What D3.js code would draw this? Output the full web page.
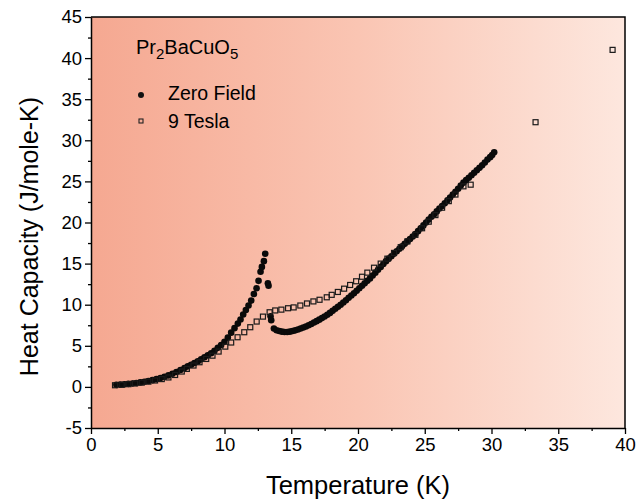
<!DOCTYPE html>
<html>
<head>
<meta charset="utf-8">
<script src="https://cdn.jsdelivr.net/npm/d3@7"></script>
<style>
  body { margin: 0; background: #fff; }
  svg { display: block; font-family: "Liberation Sans", Arial, sans-serif; }
</style>
</head>
<body>
<div id="chart"></div>
<script>
// ---- Data
const zeroFieldT = [
  1.9, 2.2, 2.5, 2.8, 3.1, 3.4, 3.7, 4.0, 4.3, 4.6, 4.9, 5.2, 5.5, 5.8, 6.1, 6.4, 6.7,
  7.0, 7.25, 7.5, 7.75, 8.0, 8.25, 8.5, 8.75, 9.0, 9.25, 9.5, 9.75, 10.0, 10.25, 10.5, 10.75,
  11.0, 11.2, 11.4, 11.6, 11.8, 12.0, 12.2, 12.4, 12.55, 12.7, 12.8, 12.95, 13.05,
  13.25, 13.3, 13.45, 13.5,
  13.7, 13.9, 14.1, 14.3, 14.5, 14.7, 14.9, 15.1, 15.3, 15.5, 15.7, 15.9, 16.1, 16.3, 16.5,
  16.7, 16.9, 17.1, 17.3, 17.5, 17.7, 17.9, 18.1, 18.3, 18.5, 18.7, 18.9, 19.1, 19.3, 19.5,
  19.7, 19.9, 20.1, 20.3, 20.5, 20.7, 20.9, 21.1, 21.3, 21.5, 21.7, 21.9, 22.1, 22.3, 22.5,
  22.7, 22.9, 23.1, 23.3, 23.5, 23.7, 23.9, 24.1, 24.3, 24.5, 24.7, 24.9, 25.1, 25.3, 25.5,
  25.7, 25.9, 26.1, 26.3, 26.5, 26.7, 26.9, 27.1, 27.3, 27.5, 27.7, 27.9, 28.1, 28.3, 28.5,
  28.7, 28.9, 29.1, 29.3, 29.5, 29.7, 29.9, 30.05, 30.2
];
const zeroFieldC = [
  0.25, 0.28, 0.32, 0.37, 0.42, 0.48, 0.55, 0.63, 0.72, 0.82, 0.94, 1.07, 1.22, 1.4, 1.6, 1.82, 2.05,
  2.3, 2.5, 2.7, 2.9, 3.1, 3.35, 3.6, 3.85, 4.1, 4.4, 4.75, 5.1, 5.5, 6.0, 6.6, 7.15,
  7.7, 8.2, 8.8, 9.35, 9.9, 10.5, 11.3, 12.0, 12.9, 14.0, 14.6, 15.3, 16.2,
  12.6, 12.3, 8.6, 8.1,
  7.1, 6.9, 6.8, 6.72, 6.68, 6.68, 6.72, 6.8, 6.88, 6.98, 7.1, 7.22, 7.35, 7.5, 7.66,
  7.83, 8.0, 8.18, 8.37, 8.57, 8.78, 9.0, 9.25, 9.5, 9.75, 10.0, 10.27, 10.55, 10.85, 11.12,
  11.4, 11.7, 12.0, 12.3, 12.6, 12.9, 13.2, 13.55, 13.9, 14.25, 14.6, 14.95, 15.3, 15.6, 15.9,
  16.2, 16.5, 16.8, 17.1, 17.4, 17.7, 18.0, 18.3, 18.6, 18.95, 19.3, 19.65, 20.0, 20.35, 20.7,
  21.0, 21.35, 21.7, 22.0, 22.35, 22.7, 23.05, 23.4, 23.75, 24.1, 24.5, 24.85, 25.15, 25.45, 25.75,
  26.05, 26.35, 26.65, 26.95, 27.3, 27.65, 27.95, 28.2, 28.55
];

const teslaT = [
  1.8, 2.3, 2.8, 3.3, 3.8, 4.3, 4.8, 5.3, 5.8, 6.3, 6.8, 7.18, 7.68, 8.13, 8.63, 9.1, 9.56,
  10.06, 10.5, 10.98, 11.48, 11.93, 12.41, 12.88, 13.38, 13.8, 14.26, 14.76, 15.18, 15.68,
  16.18, 16.66, 17.12, 17.66, 18.03, 18.49, 18.96, 19.41, 19.86, 20.3, 20.7, 21.2, 21.7,
  22.2, 22.7, 23.2, 23.7, 24.3, 24.8, 25.3, 25.8, 26.3, 26.8, 27.3, 27.9, 28.44, 33.3, 39.07
];
const teslaC = [
  0.2, 0.25, 0.33, 0.42, 0.52, 0.64, 0.78, 0.95, 1.15, 1.45, 1.87, 2.19, 2.6, 3.0, 3.4, 3.8, 4.3,
  4.9, 5.4, 6.04, 6.65, 7.26, 7.95, 8.55, 9.08, 9.3, 9.4, 9.57, 9.67, 9.9,
  10.15, 10.4, 10.6, 10.9, 11.2, 11.55, 11.95, 12.4, 12.85, 13.4, 13.9, 14.5, 15.0,
  15.6, 16.3, 17.0, 17.7, 18.5, 19.3, 20.1, 20.9, 21.8, 22.6, 23.4, 24.4, 24.6, 32.2, 41.0
];

const xTicks = [0, 5, 10, 15, 20, 25, 30, 35, 40];
const yTicks = [-5, 0, 5, 10, 15, 20, 25, 30, 35, 40, 45];
const xMinor = [2.5, 7.5, 12.5, 17.5, 22.5, 27.5, 32.5, 37.5];
const yMinor = [-2.5, 2.5, 7.5, 12.5, 17.5, 22.5, 27.5, 32.5, 37.5, 42.5];

const zeroField = zeroFieldT.map((t, i) => ({ t, c: zeroFieldC[i] }));
const tesla = teslaT.map((t, i) => ({ t, c: teslaC[i] }));

// ---- Layout
const W = 636, H = 500;
const margins = { left: 91, right: 11, top: 17, bottom: 72 };

const svg = d3.select('#chart').append('svg')
  .attr('width', W).attr('height', H);

const x = d3.scaleLinear().domain([0, 40]).range([margins.left, W - margins.right]);
const y = d3.scaleLinear().domain([-5, 45]).range([H - margins.bottom, margins.top]);

// ---- Background gradient
const grad = svg.append('defs').append('linearGradient')
  .attr('id', 'bg').attr('x1', '0').attr('x2', '1').attr('y1', '0').attr('y2', '0');
grad.append('stop').attr('offset', '0%').attr('stop-color', '#f5a891');
grad.append('stop').attr('offset', '50%').attr('stop-color', '#fac5b3');
grad.append('stop').attr('offset', '100%').attr('stop-color', '#fde7de');

svg.append('rect')
  .attr('x', x(0)).attr('y', y(45))
  .attr('width', x(40) - x(0)).attr('height', y(-5) - y(45))
  .attr('fill', 'url(#bg)');

// ---- Marks
const marks = svg.append('g');
marks.selectAll('.zf').data(zeroField).join('circle')
  .attr('class', 'zf')
  .attr('cx', d => x(d.t)).attr('cy', d => y(d.c))
  .attr('r', 3.3).attr('fill', '#0a0a0a');

const sq = 5;
marks.selectAll('.tesla').data(tesla).join('rect')
  .attr('class', 'tesla')
  .attr('x', d => x(d.t) - sq / 2).attr('y', d => y(d.c) - sq / 2)
  .attr('width', sq).attr('height', sq)
  .attr('fill', 'none').attr('stroke', '#1a1a1a').attr('stroke-width', 1.2);

// ---- Axes
const fmt = d => String(d);
const xAxis = svg.append('g')
  .attr('transform', `translate(0, ${y(-5)})`)
  .call(d3.axisBottom(x).tickValues(xTicks).tickFormat(fmt).tickSize(6).tickPadding(4).tickSizeOuter(0));
svg.append('g')
  .attr('transform', `translate(0, ${y(-5)})`)
  .call(d3.axisBottom(x).tickValues(xMinor).tickSize(3).tickFormat('').tickSizeOuter(0))
  .select('.domain').remove();

const yAxis = svg.append('g')
  .attr('transform', `translate(${x(0)}, 0)`)
  .call(d3.axisLeft(y).tickValues(yTicks).tickFormat(fmt).tickSize(6).tickPadding(3).tickSizeOuter(0));
svg.append('g')
  .attr('transform', `translate(${x(0)}, 0)`)
  .call(d3.axisLeft(y).tickValues(yMinor).tickSize(3).tickFormat('').tickSizeOuter(0))
  .select('.domain').remove();

svg.selectAll('.tick line').attr('stroke', '#000').attr('stroke-width', 1.3);
svg.selectAll('.domain').attr('stroke', '#000').attr('stroke-width', 1.5);
[xAxis, yAxis].forEach(a => a.selectAll('.tick text')
  .attr('font-size', 18.5).attr('fill', '#000')
  .attr('font-family', '"Liberation Sans", Arial, sans-serif'));

// ---- Frame (top and right)
svg.append('path')
  .attr('d', `M${x(0)},${y(45)}H${x(40)}V${y(-5)}`)
  .attr('fill', 'none').attr('stroke', '#000').attr('stroke-width', 1.5);

// ---- Axis titles
svg.append('text')
  .attr('x', (x(0) + x(40)) / 2).attr('y', 494)
  .attr('text-anchor', 'middle').attr('font-size', 25.5)
  .text('Temperature (K)');

svg.append('text')
  .attr('transform', `translate(38, ${(y(45) + y(-5)) / 2 + 14}) rotate(-90)`)
  .attr('text-anchor', 'middle').attr('font-size', 25)
  .text('Heat Capacity (J/mole-K)');

// ---- Compound label and legend
const formula = svg.append('text').attr('x', 136).attr('y', 54).attr('font-size', 20);
formula.append('tspan').text('Pr');
formula.append('tspan').attr('font-size', 15).attr('dy', 5).text('2');
formula.append('tspan').attr('dy', -5).text('BaCuO');
formula.append('tspan').attr('font-size', 15).attr('dy', 5).text('5');

svg.append('circle').attr('cx', 141).attr('cy', 95).attr('r', 3).attr('fill', '#111');
svg.append('text').attr('x', 168).attr('y', 100).attr('font-size', 19.5).text('Zero Field');

svg.append('rect').attr('x', 141 - 2).attr('y', 121 - 2)
  .attr('width', 4).attr('height', 4)
  .attr('fill', 'none').attr('stroke', '#222').attr('stroke-width', 1.1);
svg.append('text').attr('x', 168).attr('y', 128).attr('font-size', 19.5).text('9 Tesla');
</script>
</body>
</html>
